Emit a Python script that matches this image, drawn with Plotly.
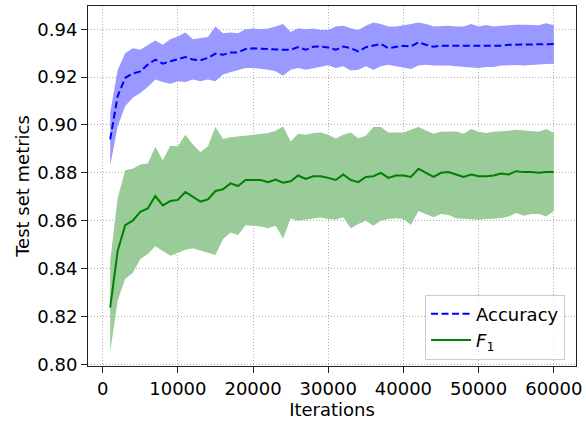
import plotly.graph_objects as go

iterations = list(range(1000, 61000, 1000))

acc_mean = [0.8940, 0.9121, 0.9197, 0.9215, 0.9224, 0.9252, 0.9273, 0.9256, 0.9266, 0.9276,
            0.9284, 0.9273, 0.9270, 0.9280, 0.9298, 0.9293, 0.9303, 0.9303, 0.9317, 0.9320,
            0.9318, 0.9317, 0.9316, 0.9314, 0.9314, 0.9325, 0.9314, 0.9327, 0.9328, 0.9324,
            0.9314, 0.9328, 0.9321, 0.9307, 0.9325, 0.9331, 0.9338, 0.9321, 0.9325, 0.9331,
            0.9328, 0.9345, 0.9335, 0.9327, 0.9331, 0.9331, 0.9331, 0.9328, 0.9331, 0.9328,
            0.9328, 0.9328, 0.9331, 0.9335, 0.9335, 0.9336, 0.9336, 0.9336, 0.9338, 0.9338]
acc_upper = [0.9050, 0.9231, 0.9300, 0.9321, 0.9314, 0.9335, 0.9353, 0.9335, 0.9358, 0.9370,
             0.9386, 0.9358, 0.9363, 0.9367, 0.9411, 0.9383, 0.9386, 0.9383, 0.9400, 0.9403,
             0.9400, 0.9403, 0.9411, 0.9422, 0.9388, 0.9404, 0.9400, 0.9403, 0.9397, 0.9397,
             0.9411, 0.9414, 0.9404, 0.9397, 0.9414, 0.9428, 0.9422, 0.9411, 0.9411, 0.9418,
             0.9422, 0.9428, 0.9422, 0.9411, 0.9414, 0.9414, 0.9411, 0.9411, 0.9422, 0.9411,
             0.9418, 0.9411, 0.9414, 0.9418, 0.9419, 0.9419, 0.9419, 0.9417, 0.9425, 0.9417]
acc_lower = [0.8830, 0.8995, 0.9079, 0.9114, 0.9134, 0.9159, 0.9190, 0.9179, 0.9172, 0.9183,
             0.9179, 0.9190, 0.9183, 0.9190, 0.9183, 0.9211, 0.9220, 0.9228, 0.9238, 0.9238,
             0.9235, 0.9231, 0.9224, 0.9206, 0.9231, 0.9238, 0.9231, 0.9238, 0.9245, 0.9249,
             0.9238, 0.9245, 0.9228, 0.9231, 0.9245, 0.9231, 0.9245, 0.9252, 0.9245, 0.9238,
             0.9234, 0.9248, 0.9252, 0.9248, 0.9249, 0.9248, 0.9245, 0.9242, 0.9238, 0.9238,
             0.9242, 0.9242, 0.9248, 0.9251, 0.9251, 0.9248, 0.9251, 0.9251, 0.9255, 0.9256]

f1_mean = [0.8237, 0.8475, 0.8581, 0.8600, 0.8637, 0.8651, 0.8703, 0.8664, 0.8682, 0.8687,
           0.8720, 0.8700, 0.8680, 0.8689, 0.8724, 0.8731, 0.8756, 0.8745, 0.8770, 0.8770,
           0.8770, 0.8761, 0.8772, 0.8759, 0.8765, 0.8789, 0.8775, 0.8786, 0.8786, 0.8779,
           0.8770, 0.8793, 0.8770, 0.8761, 0.8783, 0.8786, 0.8800, 0.8779, 0.8789, 0.8789,
           0.8783, 0.8817, 0.8800, 0.8783, 0.8800, 0.8803, 0.8793, 0.8783, 0.8793, 0.8786,
           0.8786, 0.8789, 0.8797, 0.8793, 0.8807, 0.8803, 0.8803, 0.8800, 0.8803, 0.8804]
f1_upper = [0.8430, 0.8696, 0.8811, 0.8817, 0.8835, 0.8839, 0.8908, 0.8853, 0.8913, 0.8911,
            0.8959, 0.8918, 0.8886, 0.8911, 0.8991, 0.8941, 0.8949, 0.8952, 0.8955, 0.8959,
            0.8963, 0.8966, 0.8976, 0.8994, 0.8931, 0.8963, 0.8959, 0.8966, 0.8969, 0.8959,
            0.8943, 0.8959, 0.8969, 0.8945, 0.8955, 0.8991, 0.8991, 0.8969, 0.8969, 0.8969,
            0.8980, 0.8991, 0.8977, 0.8963, 0.8972, 0.8973, 0.8973, 0.8963, 0.8983, 0.8972,
            0.8966, 0.8972, 0.8973, 0.8976, 0.8980, 0.8977, 0.8973, 0.8972, 0.8983, 0.8966]
f1_lower = [0.8053, 0.8267, 0.8357, 0.8382, 0.8440, 0.8461, 0.8493, 0.8475, 0.8454, 0.8465,
            0.8479, 0.8485, 0.8475, 0.8468, 0.8457, 0.8523, 0.8551, 0.8540, 0.8581, 0.8579,
            0.8576, 0.8568, 0.8579, 0.8526, 0.8609, 0.8600, 0.8604, 0.8607, 0.8613, 0.8607,
            0.8604, 0.8614, 0.8568, 0.8586, 0.8600, 0.8579, 0.8600, 0.8607, 0.8610, 0.8607,
            0.8582, 0.8641, 0.8628, 0.8614, 0.8628, 0.8624, 0.8610, 0.8607, 0.8604, 0.8604,
            0.8607, 0.8607, 0.8610, 0.8618, 0.8632, 0.8621, 0.8628, 0.8628, 0.8618, 0.8641]

x_ticks = [0, 10000, 20000, 30000, 40000, 50000, 60000]
x_ticklabels = ["0", "10000", "20000", "30000", "40000", "50000", "60000"]
y_ticks = [0.80, 0.82, 0.84, 0.86, 0.88, 0.90, 0.92, 0.94]

FONT = "DejaVu Sans"
FS = 18
fig = go.Figure()

# bands
fig.add_trace(go.Scatter(x=iterations, y=acc_upper, mode="lines", line=dict(width=0),
                         showlegend=False, hoverinfo="skip"))
fig.add_trace(go.Scatter(x=iterations, y=acc_lower, mode="lines", line=dict(width=0),
                         fill="tonexty", fillcolor="rgb(153,153,255)",
                         showlegend=False, hoverinfo="skip"))
fig.add_trace(go.Scatter(x=iterations, y=f1_upper, mode="lines", line=dict(width=0),
                         showlegend=False, hoverinfo="skip"))
fig.add_trace(go.Scatter(x=iterations, y=f1_lower, mode="lines", line=dict(width=0),
                         fill="tonexty", fillcolor="rgb(153,204,153)",
                         showlegend=False, hoverinfo="skip"))

# lines
fig.add_trace(go.Scatter(x=iterations, y=acc_mean, mode="lines", name="Accuracy",
                         line=dict(color="#0000ff", width=2, dash="7px,3.5px")))
fig.add_trace(go.Scatter(x=iterations, y=f1_mean, mode="lines", name="<i>F</i><sub>1</sub>",
                         line=dict(color="#008000", width=2)))

axis_common = dict(
    showline=True, mirror=True, linecolor="#222", linewidth=1.1,
    ticks="outside", ticklen=6, tickwidth=1.1, tickcolor="#222",
    showgrid=True, gridcolor="#b0b0b0", gridwidth=1, griddash="1px,2px",
    zeroline=False, tickfont=dict(family=FONT, size=FS, color="black"),
    automargin=False,
)

fig.update_xaxes(range=[-1950, 62950], tickvals=x_ticks, ticktext=x_ticklabels,
                 title=dict(text="Iterations", font=dict(family=FONT, size=FS, color="black"),
                            standoff=5),
                 **axis_common)
fig.update_yaxes(range=[0.7993, 0.9497], tickvals=y_ticks, tickformat=".2f",
                 title=dict(text="Test set metrics", font=dict(family=FONT, size=FS, color="black"),
                            standoff=2),
                 **axis_common)

fig.update_layout(
    width=586, height=423,
    margin=dict(l=88, r=10, t=6, b=57),
    plot_bgcolor="white", paper_bgcolor="white",
    font=dict(family=FONT, size=FS, color="black"),
    legend=dict(x=0.9775, y=0.018, xanchor="right", yanchor="bottom",
                bgcolor="rgba(255,255,255,0.8)", bordercolor="#cccccc", borderwidth=1,
                font=dict(family=FONT, size=FS, color="black"),
                traceorder="normal", itemwidth=40, tracegroupgap=0),
)

fig.write_html("out.html", config={"displayModeBar": False},
               post_script="document.body.style.margin='0';document.body.style.overflow='hidden';")
